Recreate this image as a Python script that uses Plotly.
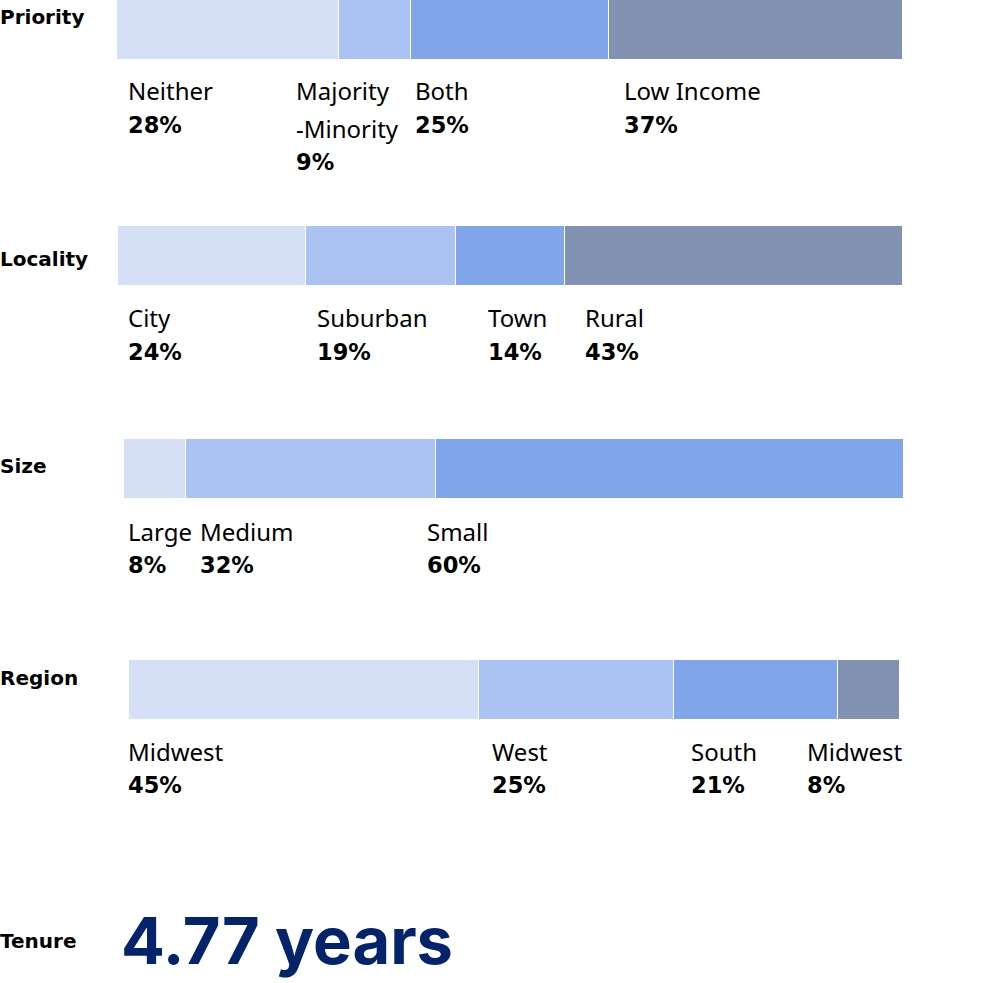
import plotly.graph_objects as go

# ---- data ----
priority_cats = ["Neither", "Majority<br>-Minority", "Both", "Low Income"]
priority_vals = [28, 9, 25, 37]
locality_cats = ["City", "Suburban", "Town", "Rural"]
locality_vals = [24, 19, 14, 43]
size_cats = ["Large", "Medium", "Small"]
size_vals = [8, 32, 60]
region_cats = ["Midwest", "West", "South", "Midwest"]
region_vals = [45, 25, 21, 8]
row_titles = ["Priority", "Locality", "Size", "Region", "Tenure"]
tenure_years = 4.77

# ---- styling / layout ----
W, H = 1004, 983
colors = ["#D5E0F7", "#ABC3F2", "#81A5EA", "#8292B3"]
NAME_FONT = dict(family="Noto Sans", size=24, color="#000000")
PCT_FONT = dict(family="DejaVu Sans", size=22.5, color="#000000", weight=700)
ROW_FONT = dict(family="DejaVu Sans", size=20, color="#000000", weight=700)
LINE_GAP = 37  # px between wrapped name lines

groups = [
    # cats, vals, bar x px (left,right), bar y px (top,bottom), label shifts, name y, pct gap, row title y
    (priority_cats, priority_vals, (117, 903), (0, 60), [9, -45, 2, 13], 91, 34, 17),
    (locality_cats, locality_vals, (118, 903), (226, 286), [8, 9, 30, 18], 318, 34, 259),
    (size_cats, size_vals, (124, 904), (439, 499), [2, 12, -11], 531, 34, 466),
    (region_cats, region_vals, (129, 900), (660, 720), [-3, 11, 15, -33], 751, 34, 678),
]

fig = go.Figure()
annotations = []
layout_axes = {}

for gi, (cats, vals, (xl, xr), (yt, yb), shifts, name_y, pct_gap, row_y) in enumerate(groups):
    n = gi + 1
    xa = "x" if n == 1 else f"x{n}"
    ya = "y" if n == 1 else f"y{n}"
    total = sum(vals)
    base = 0
    for i, (c, v) in enumerate(zip(cats, vals)):
        fig.add_trace(go.Bar(
            x=[v], y=[0], base=[base], orientation="h", width=1,
            marker=dict(color=colors[i], line=dict(color="white", width=1)),
            xaxis=xa, yaxis=ya, showlegend=False, hoverinfo="skip",
        ))
        parts = c.split("<br>")
        for k, part in enumerate(parts):
            annotations.append(dict(
                text=part, x=base, xref=xa, xshift=shifts[i], xanchor="left",
                y=1 - (name_y + k * LINE_GAP) / H, yref="paper", yanchor="middle",
                showarrow=False, font=NAME_FONT,
            ))
        extra = (len(parts) - 1) * LINE_GAP
        annotations.append(dict(
            text=f"{v}%", x=base, xref=xa, xshift=shifts[i], xanchor="left",
            y=1 - (name_y + pct_gap + extra) / H, yref="paper", yanchor="middle",
            showarrow=False, font=PCT_FONT,
        ))
        base += v
    layout_axes[("xaxis" if n == 1 else f"xaxis{n}")] = dict(
        domain=[xl / W, xr / W], range=[0, total], visible=False, fixedrange=True,
        anchor=ya)
    layout_axes[("yaxis" if n == 1 else f"yaxis{n}")] = dict(
        domain=[1 - yb / H, 1 - yt / H], range=[-0.5, 0.5], visible=False, fixedrange=True,
        anchor=xa)
    annotations.append(dict(
        text=row_titles[gi], x=0, xref="paper", xanchor="left", xshift=-2,
        y=1 - row_y / H, yref="paper", yanchor="middle", showarrow=False, font=ROW_FONT,
    ))

annotations.append(dict(
    text=row_titles[4], x=0, xref="paper", xanchor="left", xshift=-2,
    y=1 - 941 / H, yref="paper", yanchor="middle", showarrow=False, font=ROW_FONT,
))
annotations.append(dict(
    text=f"{tenure_years} years", x=119 / W, xref="paper", xanchor="left",
    y=1 - 940 / H, yref="paper", yanchor="middle", showarrow=False,
    font=dict(family="Inter", size=65, color="#03236B", weight=700),
))

fig.update_layout(
    width=W, height=H, margin=dict(l=0, r=0, t=0, b=0),
    paper_bgcolor="white", plot_bgcolor="white",
    barmode="stack", bargap=0,
    annotations=annotations, **layout_axes,
)

fig.write_html(
    "out.html",
    config={"displayModeBar": False},
    post_script="document.body.style.margin='0';document.body.style.overflow='hidden';",
)
